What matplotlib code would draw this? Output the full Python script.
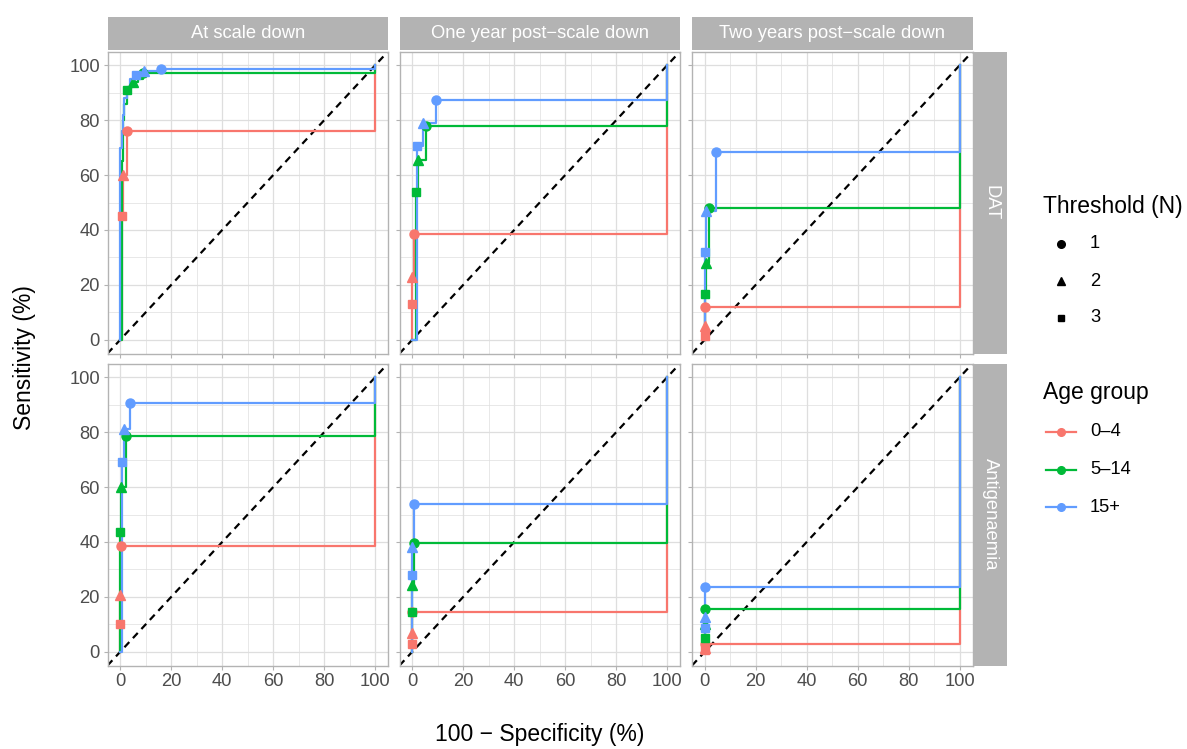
import numpy as np
import matplotlib.pyplot as plt
from matplotlib.patches import Rectangle

plt.rcParams['font.family'] = ['Liberation Sans', 'DejaVu Sans']

periods = ['At scale down', 'One year post\u2212scale down', 'Two years post\u2212scale down']
tests = ['DAT', 'Antigenaemia']
ages = ['0\u20134', '5\u201314', '15+']
thresholds = ['1', '2', '3']
age_colors = ['#F8766D', '#00BA38', '#619CFF']
thr_markers = ['o', '^', 's']

# threshold N = 1, 2, 3 points per age group: 100 - specificity, sensitivity
dat_scale_fpr = [[2.5, 1, 0.5], [9, 5, 2.5], [16, 9.5, 6]]
dat_scale_sens = [[76, 60, 45], [97, 94, 91], [98.5, 98, 96.5]]
dat_1yr_fpr = [[0.5, 0, 0], [5.5, 2.2, 1.5], [9.4, 4.3, 2]]
dat_1yr_sens = [[38.5, 23, 13], [78, 65.5, 54], [87.5, 79, 70.5]]
dat_2yr_fpr = [[0, 0, 0], [1.5, 0.5, 0], [4.5, 0.5, 0]]
dat_2yr_sens = [[12, 5, 1.5], [48, 28, 16.5], [68.5, 47, 32]]
ag_scale_fpr = [[0.4, 0, 0], [2.2, 0.4, 0], [3.9, 1.3, 0.5]]
ag_scale_sens = [[38.5, 20.5, 10], [78.5, 60, 43.5], [90.5, 81, 69]]
ag_1yr_fpr = [[0, 0, 0], [0.5, 0, 0], [0.5, 0, 0]]
ag_1yr_sens = [[14.5, 7, 3], [39.5, 24.5, 14.5], [54, 38, 28]]
ag_2yr_fpr = [[0, 0, 0], [0, 0, 0], [0, 0, 0]]
ag_2yr_sens = [[3, 1.5, 0.5], [15.5, 10, 5], [23.5, 12.5, 8.5]]

# extra curve vertices (higher thresholds, no marker)
dat_scale_extra_fpr = [[], [0.5, 1, 1.5, 3.5, 7], [0, 0.5, 1, 1.5, 2.5, 4]]
dat_scale_extra_sens = [[], [65, 80, 86, 92, 95], [70, 76, 82, 88, 92, 95]]

panel_fpr = [[dat_scale_fpr, dat_1yr_fpr, dat_2yr_fpr],
             [ag_scale_fpr, ag_1yr_fpr, ag_2yr_fpr]]
panel_sens = [[dat_scale_sens, dat_1yr_sens, dat_2yr_sens],
              [ag_scale_sens, ag_1yr_sens, ag_2yr_sens]]

W, H = 1187, 749
fig = plt.figure(figsize=(W / 100, H / 100), dpi=100)

col_left = [107.5, 399.5, 692]
row_top = [51.5, 363.5]
pw, ph = 280.5, 302

grey30 = '#4D4D4D'
grey70 = '#B3B3B3'
grey87 = '#DEDEDE'


def frac(x, y, w, h):
    return [x / W, 1 - (y + h) / H, w / W, h / H]


for r in range(2):
    for c in range(3):
        ax = fig.add_axes(frac(col_left[c], row_top[r], pw, ph))
        ax.set_xlim(-5, 105)
        ax.set_ylim(-5, 105)
        ax.set_xticks(np.arange(0, 101, 20))
        ax.set_yticks(np.arange(0, 101, 20))
        ax.set_xticks(np.arange(10, 100, 20), minor=True)
        ax.set_yticks(np.arange(10, 100, 20), minor=True)
        ax.grid(True, which='major', color=grey87, linewidth=0.9)
        ax.grid(True, which='minor', color=grey87, linewidth=0.5)
        ax.set_axisbelow(True)
        for s in ax.spines.values():
            s.set_color(grey70)
            s.set_linewidth(1.0)
        ax.tick_params(which='major', length=3, width=0.8, color=grey70,
                       labelsize=13.2, labelcolor=grey30, pad=2.5)
        ax.tick_params(which='minor', length=0)
        if c > 0:
            ax.tick_params(labelleft=False)
        if r == 0:
            ax.tick_params(labelbottom=False)

        ax.plot([-5, 105], [-5, 105], color='black', linestyle=(0, (3.2, 2.4)),
                linewidth=1.6, zorder=2)

        fpr = panel_fpr[r][c]
        sens = panel_sens[r][c]
        for g in range(3):
            xs = list(fpr[g])
            ys = list(sens[g])
            if r == 0 and c == 0:
                xs += dat_scale_extra_fpr[g]
                ys += dat_scale_extra_sens[g]
            pts = sorted(zip(ys, xs))
            px = [0] + [p[1] for p in pts] + [100]
            py = [0] + [p[0] for p in pts] + [100]
            ax.plot(px, py, drawstyle='steps-post', color=age_colors[g],
                    linewidth=1.6, zorder=3)
        for g in range(3):
            for t in range(3):
                ms = 6.5 if thr_markers[t] != 's' else 5.8
                ax.plot(fpr[g][t], sens[g][t], marker=thr_markers[t],
                        color=age_colors[g], markersize=ms, linestyle='none',
                        zorder=4)

        if r == 0:
            sax = fig.add_axes(frac(col_left[c], 17, pw, 33))
            sax.add_patch(Rectangle((0, 0), 1, 1, color=grey70, transform=sax.transAxes))
            sax.set_axis_off()
            sax.text(0.5, 0.5, periods[c], color='white', fontsize=13.2,
                     ha='center', va='center', transform=sax.transAxes)
    sax = fig.add_axes(frac(974, row_top[r], 33, ph))
    sax.add_patch(Rectangle((0, 0), 1, 1, color=grey70, transform=sax.transAxes))
    sax.set_axis_off()
    sax.text(0.5, 0.5, tests[r], color='white', fontsize=13.2, rotation=-90,
             ha='center', va='center', transform=sax.transAxes)

# overlay in pixel coordinates for titles and legends
lg = fig.add_axes([0, 0, 1, 1])
lg.set_xlim(0, W)
lg.set_ylim(H, 0)
lg.set_axis_off()
lg.patch.set_alpha(0)

lg.text(540, 734, '100 \u2212 Specificity (%)', fontsize=16.5, ha='center', va='center')
lg.text(24, 358, 'Sensitivity (%)', fontsize=16.5, ha='center', va='center', rotation=90)

lg.text(1043, 207, 'Threshold (N)', fontsize=16.5, ha='left', va='center')
for t in range(3):
    y = 244 + t * 37
    ms = 5.5 if thr_markers[t] != 's' else 5
    lg.plot(1061, y, marker=thr_markers[t], color='black', markersize=ms, linestyle='none')
    lg.text(1090, y, thresholds[t], fontsize=13.2, ha='left', va='center')

lg.text(1043, 393, 'Age group', fontsize=16.5, ha='left', va='center')
for g in range(3):
    y = 432 + g * 37.5
    lg.plot([1046, 1076], [y, y], color=age_colors[g], linewidth=1.6)
    lg.plot(1061, y, marker='o', color=age_colors[g], markersize=5.5, linestyle='none')
    lg.text(1090, y, ages[g], fontsize=13.2, ha='left', va='center')

fig.savefig('out.png', dpi=100)
